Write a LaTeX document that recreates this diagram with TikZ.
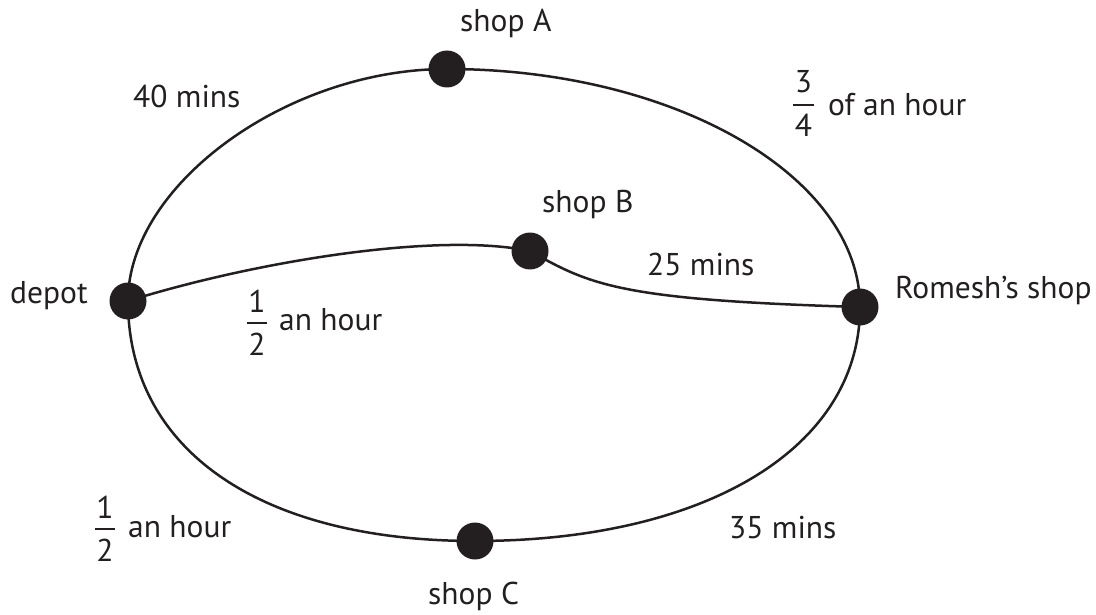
\documentclass[tikz,border=0pt]{standalone}
\usepackage{fontspec}
\setmainfont{PT Sans}
\definecolor{ink}{HTML}{231F20}
\begin{document}
\begin{tikzpicture}[x=1pt,y=-1pt,
  stop/.style={circle,fill=ink,draw=none,minimum size=37pt,inner sep=0pt},
  road/.style={draw=ink,line width=2.5pt},
  lbl/.style={text=ink,font=\fontsize{31.5}{38}\selectfont,inner sep=0pt,anchor=base west},
  num/.style={text=ink,font=\fontsize{31.5}{38}\selectfont,inner sep=0pt,anchor=base},
  fracbar/.style={draw=ink,line width=2pt}]
\useasboundingbox (0,0) rectangle (1096,615);
% stops
\node[stop] (depot) at (128,301) {};
\node[stop] (shopA) at (447,69) {};
\node[stop] (romesh) at (860,307) {};
\node[stop] (shopC) at (475,541) {};
\node[stop] (shopB) at (530,251) {};
% roads
\draw[road] (depot.center) .. controls (128,185) and (287,69) .. (shopA.center);
\draw[road] (shopA.center) .. controls (674,69) and (860,176) .. (romesh.center);
\draw[road] (romesh.center) .. controls (860,448) and (706,541) .. (shopC.center);
\draw[road] (shopC.center) .. controls (260,541) and (128,450) .. (depot.center);
\draw[road] (depot.center) .. controls (260,260) and (440,232) .. (shopB.center);
\draw[road] (shopB.center) .. controls (590,285) and (620,300) .. (romesh.center);
% labels
\node[lbl] (tA) at (460,32) {shop A};
\node[lbl] (tB) at (542,212) {shop B};
\node[lbl] (tC) at (428,604) {shop C};
\node[lbl] (tdepot) at (10,303) {depot};
\node[lbl] (tromesh) at (895,298) {Romesh’s shop};
\node[lbl] (t40) at (133,108) {40 mins};
\node[lbl] (t25) at (647,275) {25 mins};
\node[lbl] (t35) at (729,538) {35 mins};
% 3/4 of an hour
\node[num] (n34) at (803.5,93) {3};
\node[num] (d34) at (803.5,137) {4};
\coordinate (b34l) at (793,105);
\coordinate (b34r) at (814,105);
\draw[fracbar] (b34l) -- (b34r);
\node[lbl] (t34) at (828,116) {of an hour};
% 1/2 an hour (middle)
\node[num] (n12a) at (257,312) {1};
\node[num] (d12a) at (257,355) {2};
\coordinate (b12al) at (247,323);
\coordinate (b12ar) at (267,323);
\draw[fracbar] (b12al) -- (b12ar);
\node[lbl] (t12a) at (279,330) {an hour};
% 1/2 an hour (lower)
\node[num] (n12b) at (105,518) {1};
\node[num] (d12b) at (105,561) {2};
\coordinate (b12bl) at (95,529);
\coordinate (b12br) at (115,529);
\draw[fracbar] (b12bl) -- (b12br);
\node[lbl] (t12b) at (128,537) {an hour};
\end{tikzpicture}
\end{document}
